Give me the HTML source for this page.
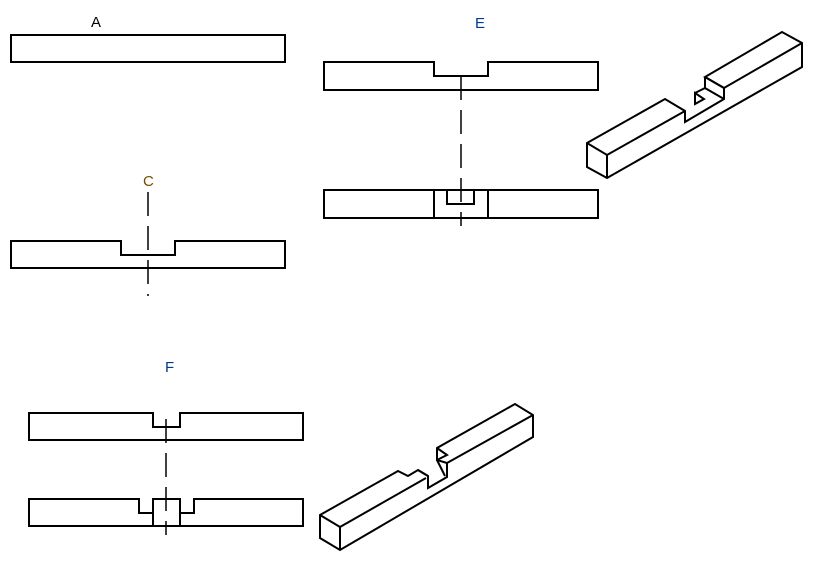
<!DOCTYPE html>
<html><head><meta charset="utf-8"><style>
html,body{margin:0;padding:0;background:#fff;}
svg{display:block;}
text{font-family:"Liberation Sans",sans-serif;font-size:15px;}
</style></head><body>
<svg width="814" height="570" viewBox="0 0 814 570" xmlns="http://www.w3.org/2000/svg">
<g fill="none" stroke="#000" stroke-width="2" stroke-linejoin="miter">
<!-- A -->
<rect x="11" y="35" width="274" height="27"/>
<!-- C -->
<path d="M11 241 H121 V255 H175 V241 H285 V268 H11 Z"/>
<!-- E top -->
<path d="M324 62 H434 V76 H488 V62 H598 V90 H324 Z"/>
<!-- E bottom -->
<rect x="324" y="190" width="274" height="28"/>
<path d="M434 190 V218 M488 190 V218 M447 190 V204 H474 V190"/>
<!-- F top -->
<path d="M29 413 H153 V427 H180 V413 H303 V440 H29 Z"/>
<!-- F bottom -->
<path d="M29 499 H139 V513 H153 V499 H180 V513 H194 V499 H303 V526 H29 Z"/>
<path d="M153 499 V526 M180 499 V526"/>
<!-- E iso -->
<path d="M587 143 L665 99 L685 111 L685 122 L724 99 L724 88 L705 77 L782 32 L802 43 L802 67 L607 178 L587 167 Z"/>
<path d="M607 155 L607 178 M587 143 L607 155 L685 111 M705 77 L705 88 L724 99 M705 77 L724 88 L802 43 M695 93 L695 104 L704 99 Z M695 93 L705 88"/>
<!-- F iso -->
<path d="M320 515 L398 471 L408 476 L418 470 L428 476 L428 488 L447 477 L447 463 L437 460 L437 448 L515 404 L533 415 L533 437 L340 550 L320 538 Z"/>
<path d="M320 515 L340 527 L340 550 M340 527 L426 478 M437 448 L447 455 L437 460 M447 463 L533 415 M418 470 L428 476 M437 460 L445 476"/>
</g>
<g fill="none" stroke="#000" stroke-width="1.5" stroke-dasharray="24,10">
<path d="M148 192 V296"/>
<path d="M461 76 V226"/>
<path d="M166 419 V535"/>
</g>
<text x="91" y="27" fill="#000">A</text>
<text x="475" y="28" fill="#003a8c">E</text>
<text x="143" y="186" fill="#7a4a00">C</text>
<text x="165" y="372" fill="#003a8c">F</text>
</svg>
</body></html>
